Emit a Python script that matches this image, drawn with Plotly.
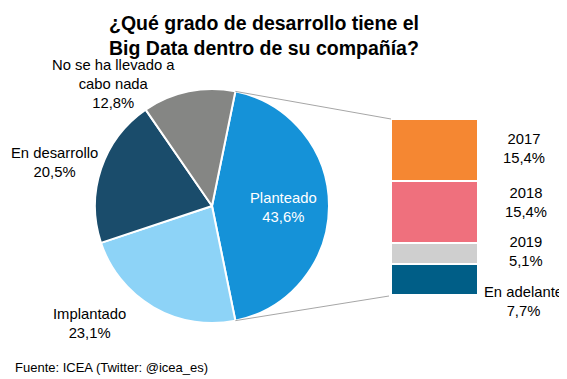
import math
import plotly.graph_objects as go

# ---- data ----
pie_labels = ["Planteado", "Implantado", "En desarrollo", "No se ha llevado a cabo nada"]
pie_values = [43.6, 23.1, 20.5, 12.8]
pie_colors = ["#1592d8", "#8dd3f7", "#1a4c6b", "#858684"]

bar_labels = ["2017", "2018", "2019", "En adelante"]
bar_values = [15.4, 15.4, 5.1, 7.7]
bar_colors = ["#f58732", "#ef707d", "#cfcfcf", "#005e87"]

title_text = "¿Qué grado de desarrollo tiene el<br>Big Data dentro de su compañía?"
source_text = "Fuente: ICEA (Twitter: @icea_es)"

# page has an 8px body margin; the figure fills the rest of the window
OFF = 8
W, H = 567 - OFF, 379 - OFF
FONT = "Liberation Sans, Arial, sans-serif"

def PX(x):
    return (x - OFF) / W

def PY(y):
    return 1 - (y - OFF) / H

def fmt(v):
    return f"{v:.1f}".replace(".", ",") + "%"

# pie geometry (window pixels)
cx, cy, r = 212, 206, 117
pie_dom_x = [PX(cx - r), PX(cx + r)]
pie_dom_y = [PY(cy + r), PY(cy - r)]
rotation = 90 - pie_values[0] * 3.6 / 2

# bar geometry (window pixels)
bx0, bx1, by0, by1 = 391, 478, 119, 295

fig = go.Figure()
fig.add_trace(go.Pie(
    labels=pie_labels, values=pie_values, sort=False, direction="clockwise",
    rotation=rotation, marker=dict(colors=pie_colors, line=dict(color="white", width=2)),
    textinfo="none", hoverinfo="label+percent", showlegend=False,
    domain=dict(x=pie_dom_x, y=pie_dom_y),
))

# stacked bar: bottom first
for lab, val, col in reversed(list(zip(bar_labels, bar_values, bar_colors))):
    fig.add_trace(go.Bar(
        x=[0], y=[val], name=lab, width=1,
        marker=dict(color=col, line=dict(color="white", width=2)),
        showlegend=False, hoverinfo="name+y",
    ))

total_bar = sum(bar_values)
fig.update_layout(
    width=W, height=H, margin=dict(l=0, r=0, t=0, b=0),
    paper_bgcolor="white", plot_bgcolor="white", barmode="stack", bargap=0,
    xaxis=dict(domain=[PX(bx0), PX(bx1)], range=[-0.5, 0.5], visible=False, fixedrange=True),
    yaxis=dict(domain=[PY(by1), PY(by0)], range=[0, total_bar], visible=False, fixedrange=True),
    font=dict(family=FONT, color="black"),
)

# connector lines
a1 = math.radians(rotation)
a2 = math.radians(rotation + pie_values[0] * 3.6)
p1 = (cx + r * math.sin(a1), cy - r * math.cos(a1))
p2 = (cx + r * math.sin(a2), cy - r * math.cos(a2))
for (px, py), (qx, qy) in [(p1, (bx0, by0)), (p2, (bx0 - 2, by1 + 1))]:
    fig.add_shape(type="line", xref="paper", yref="paper",
                  x0=PX(px), y0=PY(py), x1=PX(qx), y1=PY(qy),
                  line=dict(color="#a6a6a6", width=1))

def ann(text, x, y, color="black", size=14.8, bold=False):
    fig.add_annotation(text=f"<b>{text}</b>" if bold else text,
                       x=PX(x), y=PY(y), xref="paper", yref="paper",
                       showarrow=False, font=dict(family=FONT, size=size, color=color),
                       xanchor="center", yanchor="middle", align="center")

# title
ann(title_text, 264, 36, size=19.5, bold=True)

# pie labels
ann("No se ha llevado a<br>cabo nada<br>" + fmt(pie_values[3]), 113, 84)
ann("En desarrollo<br>" + fmt(pie_values[2]), 54, 162)
ann("Implantado<br>" + fmt(pie_values[1]), 89, 323)
ann("Planteado<br>" + fmt(pie_values[0]), 283, 207, color="white")

# bar labels
bar_lab_pos = [(524, 148), (526, 202), (526, 251), (523, 301)]
for lab, val, (x, y) in zip(bar_labels, bar_values, bar_lab_pos):
    ann(lab + "<br>" + fmt(val), x, y)

# source
fig.add_annotation(text=source_text, x=PX(13), y=PY(367), xref="paper", yref="paper",
                   showarrow=False, xanchor="left", yanchor="middle",
                   font=dict(family=FONT, size=13, color="black"))

fig.write_html("out.html")
